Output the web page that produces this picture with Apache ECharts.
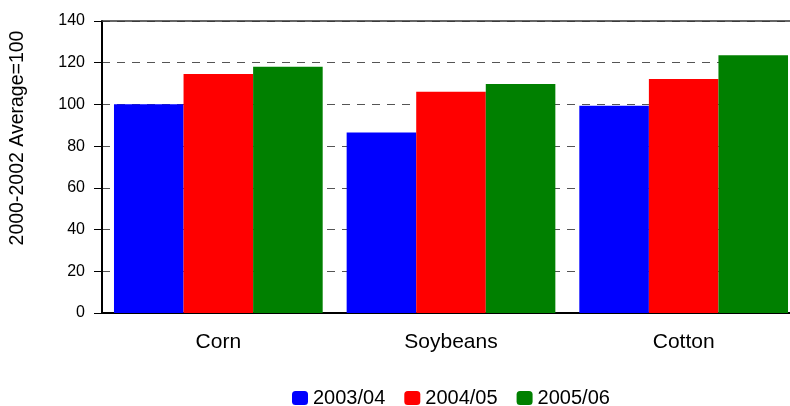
<!DOCTYPE html>
<html>
<head>
<meta charset="utf-8">
<script src="https://cdn.jsdelivr.net/npm/echarts@6/dist/echarts.min.js"></script>
<style>
  html, body { margin: 0; padding: 0; background: #fff; overflow: hidden; }
  #chart { width: 800px; height: 406px; }
</style>
</head>
<body>
<div id="chart"></div>
<script>
// Crop price indices by marketing year
const categories = ['Corn', 'Soybeans', 'Cotton'];
const seriesNames = ['2003/04', '2004/05', '2005/06'];
const values0304 = [100.1, 86.6, 99.4];
const values0405 = [114.6, 106.1, 112.2];
const values0506 = [118.1, 109.8, 123.6];
const yTicks = [0, 20, 40, 60, 80, 100, 120, 140];
const colors = ['#0000FF', '#FF0000', '#008000'];

const allValues = [values0304, values0405, values0506];
const FONT = 'Liberation Sans, Arial, sans-serif';

const chart = echarts.init(document.getElementById('chart'), null, { renderer: 'canvas' });

const series = seriesNames.map((name, i) => {
  const s = {
    name: name,
    type: 'bar',
    data: allValues[i],
    itemStyle: { color: colors[i] },
    barGap: '0%',
    barCategoryGap: '10.3%',
    emphasis: { disabled: true }
  };
  if (i === 0) {
    // solid frame line along the top of the value range
    s.markLine = {
      silent: true,
      symbol: 'none',
      label: { show: false },
      lineStyle: { color: '#333', width: 1.5, type: 'solid' },
      data: [{ yAxis: yTicks[yTicks.length - 1] }]
    };
  }
  return s;
});

chart.setOption({
  animation: false,
  backgroundColor: '#ffffff',
  color: colors,
  grid: { left: 101, top: 21, right: 0, bottom: 93, containLabel: false },
  legend: {
    data: seriesNames,
    left: 287,
    top: 383,
    itemWidth: 16,
    itemHeight: 14,
    itemGap: 19,
    icon: 'roundRect',
    textStyle: { fontFamily: FONT, fontSize: 20, color: '#000' }
  },
  xAxis: {
    type: 'category',
    data: categories,
    axisLine: { show: true, lineStyle: { color: '#000', width: 2 } },
    axisTick: { show: false },
    axisLabel: { fontFamily: FONT, fontSize: 21, color: '#000', margin: 19 }
  },
  yAxis: {
    type: 'value',
    min: yTicks[0],
    max: yTicks[yTicks.length - 1],
    interval: 20,
    name: '2000-2002 Average=100',
    nameLocation: 'middle',
    nameGap: 74,
    nameTextStyle: { fontFamily: FONT, fontSize: 19.5, color: '#000', padding: [0, 0, 0, 58] },
    axisLine: { show: true, lineStyle: { color: '#000', width: 2 } },
    axisTick: { show: true, inside: false, length: 8, lineStyle: { color: '#000', width: 1 } },
    axisLabel: { fontFamily: FONT, fontSize: 16, color: '#000', margin: 17 },
    splitLine: {
      show: true,
      lineStyle: { color: '#555', width: 1, type: [8, 7] }
    }
  },
  series: series
});
</script>
</body>
</html>
